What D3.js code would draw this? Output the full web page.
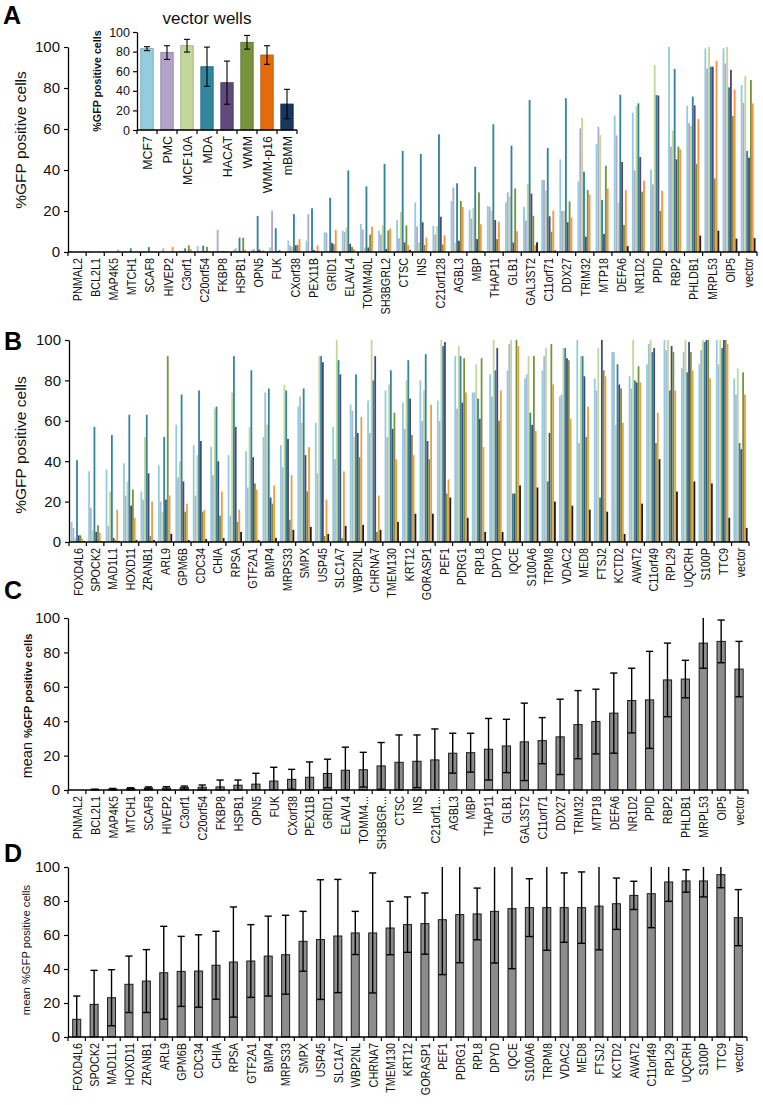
<!DOCTYPE html>
<html>
<head>
<meta charset="utf-8">
<script src="https://cdn.jsdelivr.net/npm/d3@7"></script>
<style>
  body { margin: 0; background: #fff; }
  svg { font-family: "Liberation Sans", Arial, sans-serif; }
</style>
</head>
<body>
<div id="chart"></div>
<script>
// cell lines of the inset and of the grouped panels
var cellLines = ["MCF7", "PMC", "MCF10A", "MDA", "HACAT", "WMM", "WMM-p16", "mBMM"];
var insetColors = ["#93cddd", "#b3a2c7", "#c3d69b", "#31859c", "#604a7b", "#77933c", "#e46c0a", "#17375e"];
var colorsA = ["#93cddd", "#b4a8d2", "#c3d69b", "#31859c", "#56476f", "#77933c", "#f79646", "#1e1e28"];
var colorsB = ["#93cddd", "#a7b8d8", "#c3d69b", "#31859c", "#44487a", "#77933c", "#e8a040", "#1c1c1c"];

// inset "vector wells"
var insetMean = [83, 79, 86, 64.6, 48.3, 89.5, 76.5, 26.5];
var insetErr  = [2, 7, 6.5, 20, 22, 7, 9.5, 15];

var yTicks = [0, 20, 40, 60, 80, 100];

// panel A / C genes
var genesA = ["PNMAL2","BCL2L1","MAP4K5","MTCH1","SCAF8","HIVEP2","C3orf1","C20orf54","FKBP8","HSPB1",
  "OPN5","FUK","CXorf38","PEX11B","GRID1","ELAVL4","TOMM40L","SH3BGRL2","CTSC","INS","C21orf128",
  "AGBL3","MBP","THAP11","GLB1","GAL3ST2","C11orf71","DDX27","TRIM32","MTP18","DEFA6","NR1D2","PPID",
  "RBP2","PHLDB1","MRPL53","OIP5","vector"];
var labelsC = ["PNMAL2","BCL2L1","MAP4K5","MTCH1","SCAF8","HIVEP2","C3orf1","C20orf54","FKBP8","HSPB1",
  "OPN5","FUK","CXorf38","PEX11B","GRID1","ELAVL4","TOMM4...","SH3BGR...","CTSC","INS","C21orf1...",
  "AGBL3","MBP","THAP11","GLB1","GAL3ST2","C11orf71","DDX27","TRIM32","MTP18","DEFA6","NR1D2","PPID",
  "RBP2","PHLDB1","MRPL53","OIP5","vector"];

// %GFP per cell line (MCF7, PMC, MCF10A, MDA, HACAT, WMM, WMM-p16, mBMM)
var pctA = [
  [0,0,0,0,0,0,0,0],
  [0.3,0,0,0,0,0,0,0],
  [0,0,0,0,0,0,1.1,0],
  [0.3,0,0,1.8,0,0,0,0],
  [0.5,0.3,0,2.4,0,0,0,0],
  [0,1.8,0,0,0,0,2.5,0],
  [0.5,0.5,0.7,1.8,0,3.3,1.5,0],
  [2.9,0.3,0.5,3.1,0.3,2.5,0.3,0],
  [0.3,10.8,0.5,0.5,0.3,0.3,0.5,0],
  [1.2,1.8,0.5,7,0.3,7,1,0],
  [1,1.5,0.3,17.6,1.2,0.3,0.8,0],
  [2.3,20.2,0.5,11.6,0.3,1,0.3,0],
  [5.6,3.2,2.5,18.5,3.3,3.5,6.3,0],
  [5.5,18.4,0.5,21.3,1,0.5,3.2,0],
  [9.7,9.4,0.5,26.5,4.5,3.8,10.8,0],
  [10.5,9.7,12,39.8,4,2.5,1.5,0],
  [13.7,11,2,32,2.2,8.5,12.3,0],
  [10.5,8.5,13,43,1.5,10.5,11.5,0],
  [15.6,6.7,19.5,49.3,4.7,13,3.4,1],
  [24.2,12.4,4.6,47.8,14.5,3.4,7,0.3],
  [12.8,8.6,12.7,57.4,17.2,3.7,8.1,0],
  [24.9,31.5,4.6,33.5,5.5,24.9,22,0],
  [20.5,16.3,21.6,41.6,6.3,29.1,13.5,0.5],
  [22.4,22.1,20.2,62.3,15.6,6.3,14.8,0],
  [24.2,29.1,27,51.9,4.6,31,10.1,0],
  [22,15.3,33.2,74.1,28.5,17.7,3.4,4.7],
  [35.1,35.1,29.9,50.7,17.4,9.9,20.2,0.7],
  [45.2,20,20,75,14.5,24.7,16.9,0],
  [34.5,60.3,65.5,39.2,7.5,30.2,28.1,0],
  [52.5,61,57.1,25.4,8.8,42.1,31,0],
  [66.5,56.9,24.1,76.7,43.9,13.2,30.2,2.9],
  [68,39.8,71.2,72.5,46.3,29.4,34.8,0],
  [40.2,33,91.2,76.6,76.3,20,29.9,0.7],
  [100,51.4,59.2,89.3,45.2,51.4,50.1,0],
  [71.4,62.8,61.5,75.8,71.5,42.9,64.9,8],
  [99.3,89.6,100,90.4,90.4,35.9,93.2,10.4],
  [99.3,92,100,80.3,88.8,66.3,79.3,6.5],
  [81.5,72.8,85.9,49.3,46,83.9,72.5,6.8]
];

// panel B / D genes
var genesB = ["FOXD4L6","SPOCK2","MAD1L1","HOXD11","ZRANB1","ARL9","GPM6B","CDC34","CHIA","RPSA",
  "GTF2A1","BMP4","MRPS33","SMPX","USP45","SLC1A7","WBP2NL","CHRNA7","TMEM130","KRT12","GORASP1",
  "PEF1","PDRG1","RPL8","DPYD","IQCE","S100A6","TRPM8","VDAC2","MED8","FTSJ2","KCTD2","AWAT2",
  "C11orf49","RPL29","UQCRH","S100P","TTC9","vector"];

var pctB = [
  [10,7,2,40.5,3.3,3.3,1.6,0.5],
  [35,17,5.8,57,5,8.3,4.6,0.3],
  [36,8,25,53,2,1,16,0.5],
  [39,23,30,63,18,26,12,1],
  [25,21,52,63,34,3,20,1],
  [38,20,15,52,21,92,23,4],
  [58,32,40,73,30,15,19,1],
  [48,23,43,75,50,15,16,1.5],
  [47,33,66,67,40,13,25,2],
  [43,13,74,92,57,10,16,5],
  [45,27,57,85,42,29,26,1],
  [52,74,58,76,22,19,28,2],
  [48,37,78,75,51,11,33,6],
  [67,72,59,76,43,25,47,7.5],
  [59,34,92,92,89,3,21,4],
  [57,41,100,90,83,2,35,8],
  [68,65,52,83,54,42,62,8.5],
  [70,54,100,80,92,5,23,6],
  [75,52,78,85,56,64,41,10],
  [69,56,80,90,71,53,43,14],
  [80,60,75,93,50,41,68,14],
  [70,60,100,97,99,24,31,22],
  [92,66,97,92,69,91,74,12],
  [74,74,88,71,61,91,47,5],
  [83,72,100,85,96,60,75,5],
  [85,98,100,24,24,100,97,28],
  [81,83,92,64,58,92,55,27],
  [85,92,96,30,54,98,78,20],
  [72,73,96,96,91,90,61,18],
  [100,49,92,92,82,52,67,16],
  [81,75,96,22,100,85,82,15],
  [94,94,58,88,78,76,59,4],
  [82,76,100,80,79,87,79,19],
  [88,98,100,94,96,49,64,41],
  [100,95,100,75,97,94,75,25],
  [86,94,100,84,99,94,85,30],
  [88,95,100,99,100,100,81,29],
  [100,88,100,96,100,100,98,12],
  [81,73,86,49,46,84,73,7]
];

// panel C: mean and SD over the cell lines
var meanC = [0,0.3,0.5,0.8,1.2,1.1,1.4,1.6,1.8,2.8,3.4,5.2,6.2,7.4,9.6,11.5,11.8,14,16.1,16.7,17.5,
  21.4,21.7,23.7,25.6,28,28.7,30.9,38,39.8,44.7,52,52.4,64,64.5,85.4,86.4,70.3];
var sdC = [0,0.2,0.4,0.5,0.6,0.8,0.9,1.3,4,3,6.3,8,5.8,8.9,8.3,13.4,10.1,13.6,15.9,15.3,18,
  11.6,11.3,17.9,15.5,22.5,13.4,21.9,19.8,18.8,23.3,18.8,28.2,21.4,10.9,14.6,12.4,16.1];

// panel D
var meanD = [10.4,19.2,23.1,31,32.9,37.8,38.6,38.8,42.2,44.1,44.7,47.6,48.4,56.3,57.3,59.4,61.2,61.2,
  64.1,66.1,66.7,69,72,72.4,73.9,75.5,76.1,76.1,76.1,76.1,77,78.4,83.3,84.3,91.2,91.8,91.8,95.5,70.2];
var sdD = [13.7,20,16.5,16.6,18.5,27.3,20.6,21.3,20,32.4,21.4,23.5,23.2,17.6,35.2,33.3,12.7,35.3,
  15.7,16.3,18,32.3,28.3,15.2,30.4,35.3,17,25.1,20.4,21,25.7,15.1,8.3,20,11.4,6.6,9.4,7.7,16.5];

var svg = d3.select("#chart").append("svg")
  .attr("width", 763)
  .attr("height", 1105);

// y axis 0..100 with outward ticks
function drawYAxis(y, x0, fontSize, ticks) {
  var g = svg.append("g")
    .attr("transform", "translate(" + x0 + ",0)")
    .call(d3.axisLeft(y).tickValues(ticks || yTicks).tickSize(4).tickSizeOuter(0).tickPadding(4));
  g.select(".domain").attr("stroke", "#000").attr("stroke-width", 1.3);
  g.selectAll(".tick line").attr("stroke", "#000").attr("stroke-width", 1.2);
  g.selectAll(".tick text").attr("font-size", fontSize).attr("fill", "#111")
    .attr("font-family", "'Liberation Sans', Arial, sans-serif");
  return g;
}

// x axis: baseline, ticks at the category boundaries, rotated labels
function drawXAxis(x, labels, y0, fontSize, squeeze) {
  var g = svg.append("g");
  var r = x.range();
  g.append("line")
    .attr("x1", r[0]).attr("x2", r[1])
    .attr("y1", y0).attr("y2", y0)
    .attr("stroke", "#000").attr("stroke-width", 1.3);
  var edges = x.domain().map(function(d) { return x(d); }).concat([r[1]]);
  g.selectAll("line.tk").data(edges).enter().append("line")
    .attr("class", "tk")
    .attr("x1", function(d) { return d; }).attr("x2", function(d) { return d; })
    .attr("y1", y0).attr("y2", y0 + 4)
    .attr("stroke", "#000").attr("stroke-width", 1.2);
  g.selectAll("text").data(x.domain()).enter().append("text")
    .attr("transform", function(d) {
      return "translate(" + (x(d) + x.bandwidth() / 2) + "," + (y0 + 6) + ") rotate(-90) scale(" + squeeze + ",1)";
    })
    .attr("text-anchor", "end")
    .attr("dy", "0.36em")
    .attr("font-size", fontSize)
    .attr("fill", "#111")
    .text(function(d, i) { return labels[i]; });
}

function panelLetter(txt, x, y) {
  svg.append("text").attr("x", x).attr("y", y)
    .attr("font-size", 25).attr("font-weight", "bold").attr("fill", "#000")
    .text(txt);
}

function yTitle(x, y, size, parts) {
  var t = svg.append("text")
    .attr("transform", "translate(" + x + "," + y + ") rotate(-90)")
    .attr("text-anchor", "middle").attr("fill", "#111");
  parts.forEach(function(p) {
    t.append("tspan").attr("font-size", p.size).attr("font-weight", p.bold ? "bold" : "normal").text(p.text);
  });
}

// grouped bar panels (A and B)
function groupedPanel(genes, rows, colors, x0, x1, y0, y100) {
  var x = d3.scaleBand().domain(genes).range([x0, x1]).padding(0);
  var xi = d3.scaleBand().domain(d3.range(cellLines.length))
    .range([x.bandwidth() * 0.1, x.bandwidth() * 0.92]).padding(0);
  var y = d3.scaleLinear().domain([0, 100]).range([y0, y100]);

  var groups = svg.append("g").selectAll("g").data(rows).enter().append("g")
    .attr("transform", function(d, i) { return "translate(" + x(genes[i]) + ",0)"; });
  groups.selectAll("rect").data(function(d) { return d; }).enter().append("rect")
    .attr("x", function(d, j) { return xi(j); })
    .attr("width", xi.bandwidth())
    .attr("y", function(d) { return y(d); })
    .attr("height", function(d) { return y0 - y(d); })
    .attr("fill", function(d, j) { return colors[j]; });

  drawYAxis(y, x0, 15);
  drawXAxis(x, genes, y0, 13.5, 0.8);
}

// mean +- sd panels (C and D)
function meanPanel(labels, means, sds, x0, x1, y0, y100) {
  var x = d3.scaleBand().domain(labels).range([x0, x1]).padding(0);
  var y = d3.scaleLinear().domain([0, 100]).range([y0, y100]);
  var bw = x.bandwidth() * 0.46;
  var g = svg.append("g");
  var cx = function(i) { return x(labels[i]) + x.bandwidth() / 2; };

  g.selectAll("rect").data(means).enter().append("rect")
    .attr("x", function(d, i) { return cx(i) - bw / 2; })
    .attr("width", bw)
    .attr("y", function(d) { return y(d); })
    .attr("height", function(d) { return y0 - y(d); })
    .attr("fill", "#8c8c8c")
    .attr("stroke", "#1a1a1a").attr("stroke-width", 1);

  var capW = 3.6;
  means.forEach(function(m, i) {
    if (sds[i] <= 0) return;
    var hi = Math.min(100, m + sds[i]), lo = Math.max(0, m - sds[i]);
    var c = cx(i);
    g.append("line").attr("x1", c).attr("x2", c).attr("y1", y(lo)).attr("y2", y(hi))
      .attr("stroke", "#000").attr("stroke-width", 1.4);
    if (m + sds[i] < 100) {
      g.append("line").attr("x1", c - capW).attr("x2", c + capW).attr("y1", y(hi)).attr("y2", y(hi))
        .attr("stroke", "#000").attr("stroke-width", 1.4);
    }
    if (m - sds[i] > 0) {
      g.append("line").attr("x1", c - capW).attr("x2", c + capW).attr("y1", y(lo)).attr("y2", y(lo))
        .attr("stroke", "#000").attr("stroke-width", 1.4);
    }
  });

  drawYAxis(y, x0, 15);
  drawXAxis(x, labels, y0, 13.5, 0.8);
}

// ---- Panel A
panelLetter("A", 3, 24);
groupedPanel(genesA, pctA, colorsA, 68, 757, 252, 47);
yTitle(26, 140, 15.5, [{ text: "%GFP positive cells", size: 15.5 }]);

// inset
(function() {
  var x0 = 137, x1 = 297, y0 = 130, y100 = 32;
  var x = d3.scaleBand().domain(cellLines).range([x0, x1]).paddingInner(0.38).paddingOuter(0.19);
  var y = d3.scaleLinear().domain([0, 100]).range([y0, y100]);
  var g = svg.append("g");
  g.selectAll("rect").data(insetMean).enter().append("rect")
    .attr("x", function(d, i) { return x(cellLines[i]); })
    .attr("width", x.bandwidth())
    .attr("y", function(d) { return y(d); })
    .attr("height", function(d) { return y0 - y(d); })
    .attr("fill", function(d, i) { return insetColors[i]; })
    .attr("stroke", function(d, i) { return d3.color(insetColors[i]).darker(0.7); })
    .attr("stroke-width", 0.8);
  insetMean.forEach(function(m, i) {
    var c = x(cellLines[i]) + x.bandwidth() / 2;
    var hi = y(m + insetErr[i]), lo = y(m - insetErr[i]);
    g.append("line").attr("x1", c).attr("x2", c).attr("y1", lo).attr("y2", hi)
      .attr("stroke", "#000").attr("stroke-width", 1.1);
    [hi, lo].forEach(function(v) {
      g.append("line").attr("x1", c - 3).attr("x2", c + 3).attr("y1", v).attr("y2", v)
        .attr("stroke", "#000").attr("stroke-width", 1.1);
    });
  });
  var ax = drawYAxis(y, x0, 12.5, yTicks);
  ax.selectAll(".tick text").attr("x", -7);
  // x axis with boundary ticks
  var xe = d3.scaleBand().domain(cellLines).range([x0, x1]).padding(0);
  drawXAxis(xe, cellLines, y0, 13.5, 0.92);
  svg.append("text").attr("x", 207).attr("y", 24).attr("text-anchor", "middle")
    .attr("font-size", 17).attr("fill", "#111").text("vector wells");
  yTitle(101, 81, 10.7, [{ text: "%GFP positive cells", size: 10.7, bold: true }]);
})();

// ---- Panel B
panelLetter("B", 4, 350);
groupedPanel(genesB, pctB, colorsB, 69, 749, 542, 340);
yTitle(26, 445, 15.5, [{ text: "%GFP positive cells", size: 15.5 }]);

// ---- Panel C
panelLetter("C", 4, 599);
meanPanel(labelsC, meanC, sdC, 68, 748, 790, 618);
yTitle(32, 706, 14.5, [{ text: "mean ", size: 14.5 }, { text: "%GFP positive cells", size: 11, bold: true }]);

// ---- Panel D
panelLetter("D", 4, 862);
meanPanel(genesB, meanD, sdD, 68, 747, 1037, 867);
yTitle(30, 950, 11.2, [{ text: "mean %GFP positive cells", size: 11.2 }]);
</script>
</body>
</html>
